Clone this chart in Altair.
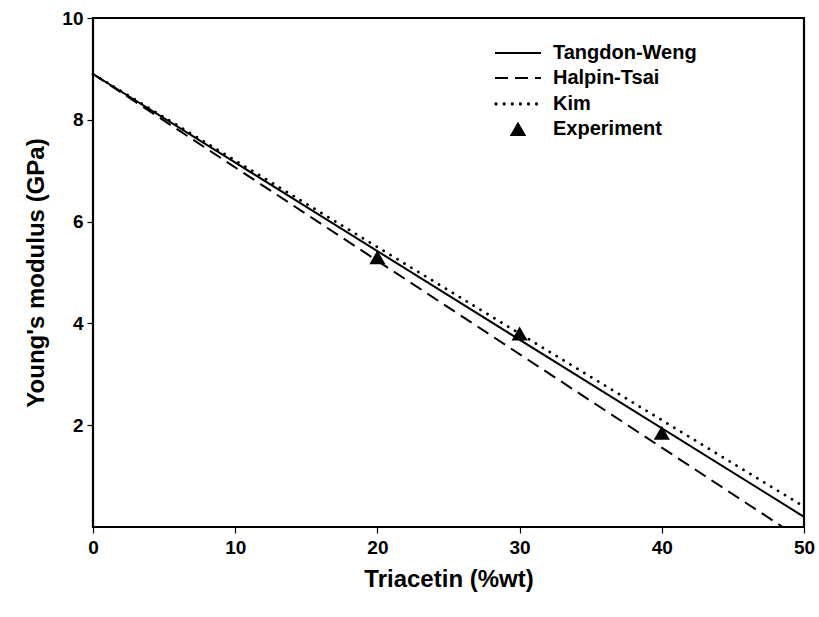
import altair as alt
import pandas as pd

# Model lines (endpoints)
tw_x = [0, 50]
tw_y = [8.9, 0.2]
ht_x = [0, 48.5]
ht_y = [8.9, 0.0]
kim_x = [0, 50]
kim_y = [8.9, 0.4]

# Experimental points
exp_x = [20, 30, 40]
exp_y = [5.3, 3.8, 1.85]

series_names = ["Tangdon-Weng", "Halpin-Tsai", "Kim", "Experiment"]

FONT = "Liberation Sans"

df_tw = pd.DataFrame({"x": tw_x, "y": tw_y})
df_ht = pd.DataFrame({"x": ht_x, "y": ht_y})
df_kim = pd.DataFrame({"x": kim_x, "y": kim_y})
df_exp = pd.DataFrame({"x": exp_x, "y": exp_y})

xscale = alt.Scale(domain=[0, 50], nice=False, zero=False)
yscale = alt.Scale(domain=[0, 10], nice=False)

xaxis = alt.Axis(values=[0, 10, 20, 30, 40, 50], title="Triacetin (%wt)", grid=False,
                 domain=False, tickColor="black", tickSize=6, tickWidth=1.2,
                 labelFont=FONT, labelFontSize=19, labelFontWeight="bold", labelColor="black",
                 labelPadding=5, titleFont=FONT, titleFontSize=24, titleFontWeight="bold",
                 titleColor="black", titlePadding=10, labelFlush=False)
yaxis = alt.Axis(values=[2, 4, 6, 8, 10], title="Young's modulus (GPa)", grid=False,
                 domain=False, tickColor="black", tickSize=6, tickWidth=1.2,
                 labelFont=FONT, labelFontSize=19, labelFontWeight="bold", labelColor="black",
                 labelPadding=4, titleFont=FONT, titleFontSize=24, titleFontWeight="bold",
                 titleColor="black", titlePadding=13, labelFlush=False)

x_enc = alt.X("x:Q", scale=xscale, axis=xaxis)
y_enc = alt.Y("y:Q", scale=yscale, axis=yaxis)

tw = alt.Chart(df_tw).mark_line(color="black", strokeWidth=2).encode(x=x_enc, y=y_enc)
ht = alt.Chart(df_ht).mark_line(color="black", strokeWidth=2, strokeDash=[13, 7]).encode(x=x_enc, y=y_enc)
kim = alt.Chart(df_kim).mark_line(color="black", strokeWidth=2.8, strokeDash=[0.1, 8],
                                  strokeCap="round").encode(x=x_enc, y=y_enc)
exp = alt.Chart(df_exp).mark_point(shape="triangle-up", filled=True, color="black",
                                   size=260, opacity=1).encode(x=x_enc, y=y_enc)

# Manual legend (inside plot, upper right)
lx1, lx2, ltx = 402, 448, 460
rows = [35, 60, 86, 111]
leg = []
leg.append(alt.Chart(df_tw).mark_rule(color="black", strokeWidth=2).encode(
    x=alt.value(lx1), x2=alt.value(lx2), y=alt.value(rows[0])))
leg.append(alt.Chart(df_tw).mark_rule(color="black", strokeWidth=2, strokeDash=[13, 7]).encode(
    x=alt.value(lx1), x2=alt.value(lx2), y=alt.value(rows[1])))
leg.append(alt.Chart(df_tw).mark_rule(color="black", strokeWidth=2.8, strokeDash=[0.1, 8],
                                      strokeCap="round").encode(
    x=alt.value(lx1 + 1), x2=alt.value(lx2), y=alt.value(rows[2])))
leg.append(alt.Chart(df_tw).mark_point(shape="triangle-up", filled=True, color="black",
                                       size=260, opacity=1).encode(
    x=alt.value((lx1 + lx2) / 2), y=alt.value(rows[3])))
for name, r in zip(series_names, rows):
    leg.append(alt.Chart(pd.DataFrame({"t": [name]})).mark_text(
        align="left", baseline="middle", font=FONT, fontSize=20, fontWeight="bold",
        color="black").encode(x=alt.value(ltx), y=alt.value(r), text="t:N"))

chart = alt.layer(tw, ht, kim, exp, *leg).properties(
    width=711, height=509,
    autosize=alt.AutoSizeParams(type="none"),
    padding={"left": 93, "top": 18, "right": 15, "bottom": 90},
    background="white",
).configure_view(stroke="black", strokeWidth=2.2)

chart.save("out.html", embed_options={"renderer": "svg", "actions": False})
